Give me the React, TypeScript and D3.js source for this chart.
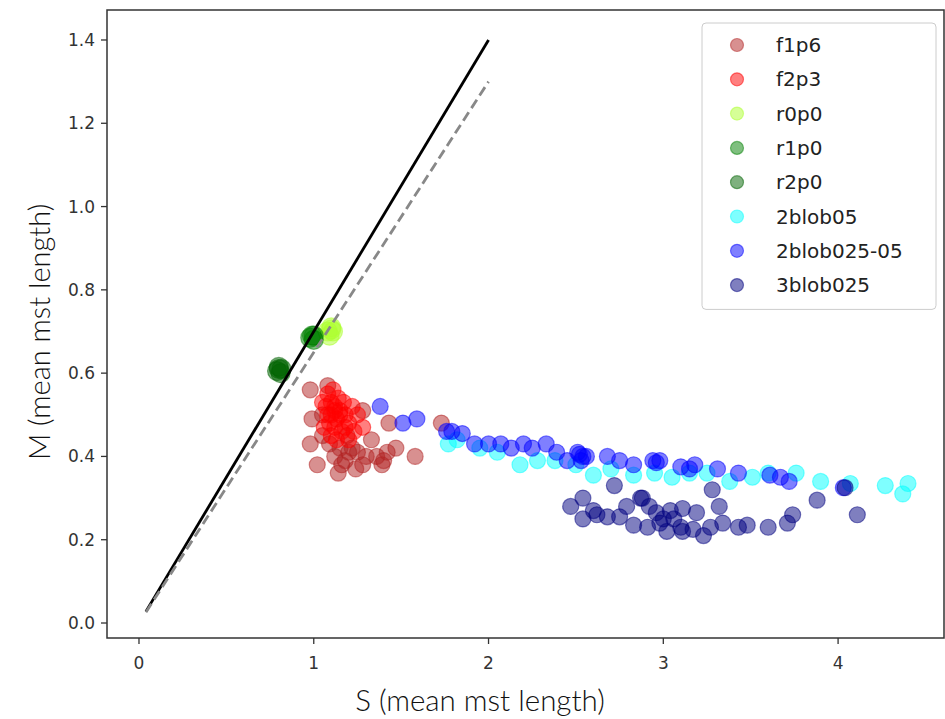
import React from "react";
import * as d3 from "d3";

const W = 945;
const H = 719;

const xTicks = [0, 1, 2, 3, 4];
const yTicks = [0.0, 0.2, 0.4, 0.6, 0.8, 1.0, 1.2, 1.4];

const seriesNames = ["f1p6", "f2p3", "r0p0", "r1p0", "r2p0", "2blob05", "2blob025-05", "3blob025"];
const seriesColors = ["#b22222", "#ff0000", "#adff2f", "#008000", "#006400", "#00ffff", "#0000ff", "#000080"];

const f1p6: [number, number][] = [
  [0.98, 0.56], [1.08, 0.57], [0.99, 0.49], [0.98, 0.43], [1.02, 0.38], [1.14, 0.36],
  [1.28, 0.38], [1.33, 0.44], [1.28, 0.51], [1.43, 0.48], [1.58, 0.40], [1.39, 0.38],
  [1.42, 0.41], [1.47, 0.42], [1.22, 0.42], [1.15, 0.42], [1.09, 0.43], [1.25, 0.41],
  [1.05, 0.45], [1.19, 0.45], [1.73, 0.48], [1.12, 0.40], [1.18, 0.39], [1.30, 0.40],
  [1.36, 0.40], [1.05, 0.50], [1.24, 0.37], [1.16, 0.38], [1.20, 0.41], [1.40, 0.39],
];
const f2p3: [number, number][] = [
  [1.08, 0.55], [1.10, 0.53], [1.12, 0.52], [1.15, 0.51], [1.13, 0.49], [1.10, 0.50],
  [1.07, 0.52], [1.18, 0.50], [1.20, 0.48], [1.16, 0.46], [1.12, 0.47], [1.09, 0.48],
  [1.14, 0.54], [1.11, 0.56], [1.17, 0.53], [1.22, 0.52], [1.25, 0.50], [1.06, 0.47],
  [1.13, 0.44], [1.20, 0.44], [1.10, 0.45], [1.15, 0.50], [1.12, 0.51], [1.18, 0.47],
  [1.08, 0.50], [1.28, 0.47], [1.05, 0.53], [1.23, 0.46],
];
const r0p0: [number, number][] = [[1.08, 0.70], [1.10, 0.71], [1.09, 0.69], [1.11, 0.70], [1.10, 0.705]];
const r1p0: [number, number][] = [[0.99, 0.69], [1.00, 0.68], [0.98, 0.685], [1.00, 0.69]];
const r2p0: [number, number][] = [[0.80, 0.61], [0.81, 0.60], [0.79, 0.605], [0.80, 0.615], [0.815, 0.61]];
const blob2_05: [number, number][] = [
  [1.77, 0.43], [1.82, 0.44], [1.95, 0.42], [2.05, 0.41], [2.18, 0.38], [2.28, 0.39],
  [2.38, 0.39], [2.50, 0.38], [2.60, 0.355], [2.70, 0.37], [2.83, 0.355], [2.95, 0.36],
  [3.05, 0.35], [3.15, 0.36], [3.25, 0.36], [3.38, 0.34], [3.51, 0.35], [3.60, 0.36],
  [3.76, 0.36], [3.90, 0.34], [4.07, 0.335], [4.27, 0.33], [4.37, 0.31], [4.40, 0.335],
];
const blob2_025_05: [number, number][] = [
  [1.38, 0.52], [1.51, 0.48], [1.59, 0.49], [1.76, 0.46], [1.79, 0.46], [1.85, 0.455],
  [1.92, 0.43], [2.00, 0.43], [2.07, 0.43], [2.13, 0.42], [2.20, 0.43], [2.25, 0.42],
  [2.33, 0.43], [2.39, 0.41], [2.45, 0.39], [2.51, 0.41], [2.54, 0.40], [2.53, 0.39],
  [2.56, 0.40], [2.52, 0.405], [2.68, 0.40], [2.75, 0.39], [2.83, 0.38], [2.94, 0.39],
  [2.96, 0.385], [2.98, 0.39], [3.10, 0.375], [3.15, 0.37], [3.18, 0.38], [3.31, 0.37],
  [3.43, 0.36], [3.61, 0.355], [3.67, 0.35], [3.72, 0.34], [4.03, 0.325],
];
const blob3_025: [number, number][] = [
  [2.72, 0.33], [2.47, 0.28], [2.54, 0.30], [2.87, 0.30], [2.60, 0.27], [2.54, 0.25],
  [2.68, 0.255], [2.75, 0.255], [2.79, 0.28], [2.83, 0.235], [2.92, 0.28], [2.96, 0.265],
  [3.00, 0.25], [3.04, 0.27], [3.11, 0.275], [2.91, 0.23], [3.02, 0.22], [3.10, 0.23],
  [3.17, 0.225], [3.19, 0.265], [3.28, 0.32], [3.32, 0.28], [3.06, 0.25], [3.11, 0.22],
  [3.23, 0.21], [3.27, 0.23], [3.34, 0.24], [3.43, 0.23], [3.48, 0.235], [3.60, 0.23],
  [3.71, 0.24], [3.74, 0.26], [3.88, 0.295], [4.04, 0.325], [4.11, 0.26], [2.88, 0.30],
  [2.62, 0.26], [2.98, 0.24],
];
const seriesData = [f1p6, f2p3, r0p0, r1p0, r2p0, blob2_05, blob2_025_05, blob3_025];

// reference lines through the origin: x extent and slope
const lineSolid = { x: [0.04, 2.0], slope: 0.7 };
const lineDashed = { x: [0.04, 2.0], slope: 0.65 };

export default function App() {
  const left = 107, right = 944, top = 10, bottom = 638;
  const x = d3.scaleLinear().domain([-0.183, 4.606]).range([left, right]);
  const y = d3.scaleLinear().domain([-0.036, 1.472]).range([bottom, top]);
  const line = d3.line<[number, number]>().x((d) => x(d[0])).y((d) => y(d[1]));
  const solidPts: [number, number][] = lineSolid.x.map((v) => [v, v * lineSolid.slope]);
  const dashedPts: [number, number][] = lineDashed.x.map((v) => [v, v * lineDashed.slope]);
  const tickFont = "DejaVu Sans, sans-serif";
  const labelFont = "Lato, Open Sans, sans-serif";
  const legX = 702, legY = 23, legW = 234, legRow = 34.3;

  return (
    <svg width={W} height={H} style={{ position: "absolute", left: 0, top: 0, background: "#fff" }}>
      <rect x={0} y={0} width={W} height={H} fill="#fff" />
      {seriesData.map((pts, si) => (
        <g key={si}>
          {pts.map((p, i) => (
            <circle key={i} cx={x(p[0])} cy={y(p[1])} r={si >= 2 && si <= 4 ? 9.5 : 8}
              fill={seriesColors[si]} fillOpacity={0.5}
              stroke={seriesColors[si]} strokeOpacity={0.5} strokeWidth={1.2} />
          ))}
        </g>
      ))}
      <path d={line(solidPts) || ""} stroke="#000" strokeWidth={2.8} fill="none" />
      <path d={line(dashedPts) || ""} stroke="#888" strokeWidth={2.8} fill="none" strokeDasharray="10,5" />
      <rect x={left} y={top} width={right - left} height={bottom - top} fill="none" stroke="#333" strokeWidth={1.5} />
      {xTicks.map((t) => (
        <g key={t}>
          <line x1={x(t)} x2={x(t)} y1={bottom} y2={bottom + 6} stroke="#333" strokeWidth={1.3} />
          <text x={x(t)} y={bottom + 31} textAnchor="middle" fontFamily={tickFont} fontSize={17} fill="#333">{t}</text>
        </g>
      ))}
      {yTicks.map((t) => (
        <g key={t}>
          <line x1={left - 6} x2={left} y1={y(t)} y2={y(t)} stroke="#333" strokeWidth={1.3} />
          <text x={left - 12} y={y(t)} dy="0.35em" textAnchor="end" fontFamily={tickFont} fontSize={17} fill="#333">{t.toFixed(1)}</text>
        </g>
      ))}
      <text x={480} y={711} textAnchor="middle" fontFamily={labelFont} fontWeight={300} fontSize={29.5} fill="#111">S (mean mst length)</text>
      <text transform={`translate(50,332) rotate(-90)`} textAnchor="middle" fontFamily={labelFont} fontWeight={300} fontSize={29} fill="#111">M (mean mst length)</text>
      <rect x={legX} y={legY} width={legW} height={legRow * 8 + 12} rx={4} fill="#fff" fillOpacity={0.8} stroke="#ccc" strokeWidth={1} />
      {seriesNames.map((n, i) => (
        <g key={n}>
          <circle cx={737} cy={legY + 22 + i * legRow} r={6.5} fill={seriesColors[i]} fillOpacity={0.5}
            stroke={seriesColors[i]} strokeOpacity={0.5} strokeWidth={1.2} />
          <text x={776} y={legY + 22 + i * legRow} dy="0.35em" fontFamily={tickFont} fontSize={20} fill="#222">{n}</text>
        </g>
      ))}
    </svg>
  );
}
